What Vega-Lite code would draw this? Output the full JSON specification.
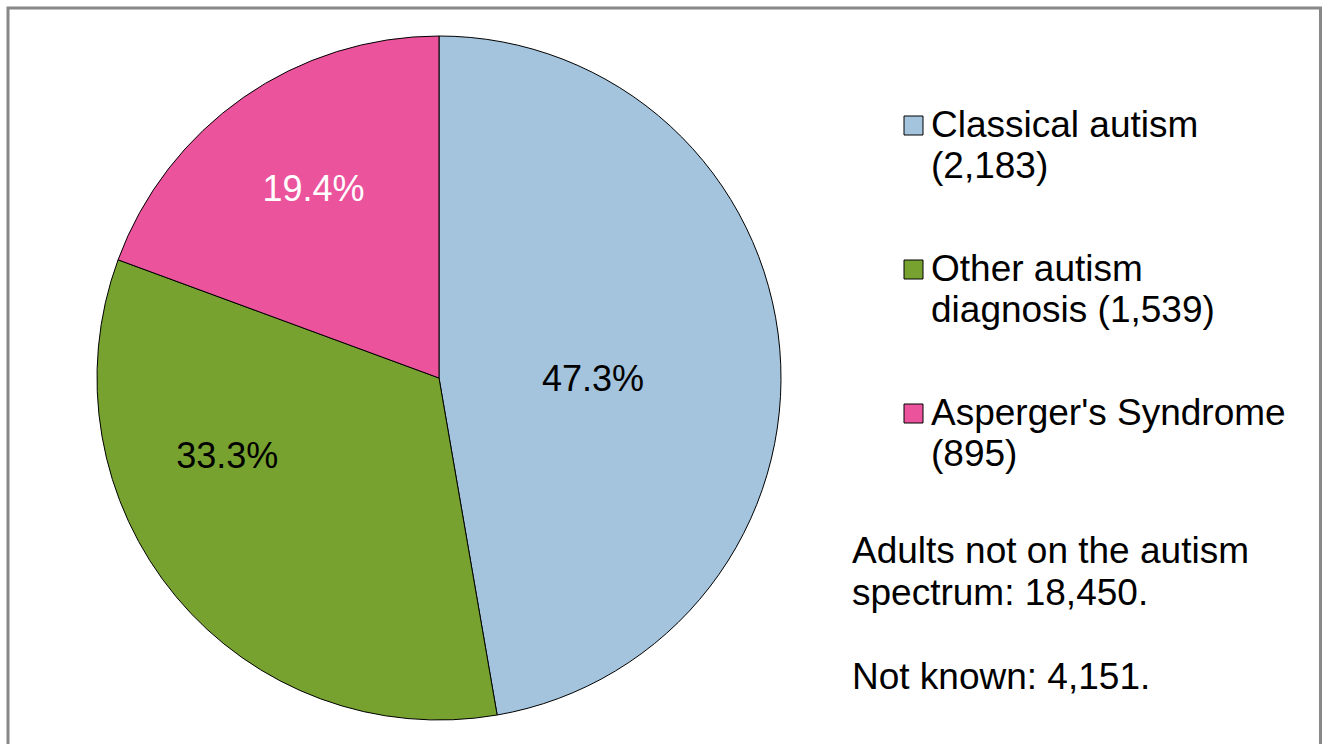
{
  "$schema": "https://vega.github.io/schema/vega-lite/v6.json",
  "autosize": {"type": "none"},
  "width": 1312,
  "height": 736,
  "padding": {"left": 8, "top": 8, "right": 8, "bottom": 0},
  "background": "white",
  "config": {"view": {"stroke": null}, "font": "Liberation Sans"},
  "data": {"values": [
    {"category": "Classical autism", "count": 2183, "rank": 1, "pct": "47.3%"},
    {"category": "Other autism diagnosis", "count": 1539, "rank": 2, "pct": "33.3%"},
    {"category": "Asperger's Syndrome", "count": 895, "rank": 3, "pct": "19.4%"}
  ]},
  "layer": [
    {
      "data": {"values": [{"frame": 1}]},
      "mark": {"type": "rect", "fill": null, "stroke": "#888888", "strokeWidth": 3},
      "encoding": {"x": {"value": 0}, "x2": {"value": 1312.5}, "y": {"value": 0}, "y2": {"value": 790}}
    },
    {
      "mark": {"type": "arc", "outerRadius": 342, "stroke": "#000000", "strokeWidth": 1},
      "encoding": {
        "x": {"value": 431},
        "y": {"value": 370},
        "theta": {"field": "count", "type": "quantitative", "stack": true},
        "order": {"field": "rank", "type": "quantitative"},
        "color": {
          "field": "category",
          "type": "nominal",
          "scale": {
            "domain": ["Classical autism", "Other autism diagnosis", "Asperger's Syndrome"],
            "range": ["#A3C4DC", "#77A22F", "#EC539D"]
          },
          "legend": {
            "orient": "none",
            "legendX": 887,
            "legendY": 99,
            "title": null,
            "padding": 0,
            "symbolType": "square",
            "symbolSize": 361,
            "symbolStrokeColor": "#000000",
            "symbolStrokeWidth": 1,
            "symbolOpacity": 1,
            "labelFont": "Liberation Sans",
            "labelFontSize": 37,
            "labelColor": "#000000",
            "labelLimit": 0,
            "labelOffset": -1,
            "labelBaseline": "alphabetic",
            "rowPadding": 65,
            "labelExpr": "datum.label === 'Classical autism' ? ['Classical autism', '(2,183)'] : datum.label === 'Other autism diagnosis' ? ['Other autism', 'diagnosis (1,539)'] : ['Asperger\\'s Syndrome', '(895)']",
            "encoding": {"labels": {"lineHeight": {"value": 41}, "dy": {"value": 11}}}
          }
        }
      }
    },
    {
      "mark": {
        "type": "text",
        "fontSize": 36,
        "font": "Liberation Sans",
        "align": "center",
        "baseline": "middle",
        "radius": {"expr": "datum.category === 'Classical autism' ? 154 : 226"},
        "thetaOffset": {"expr": "datum.category === 'Classical autism' ? 0.098 : datum.category === 'Other autism diagnosis' ? 0.337 : 0.02"}
      },
      "encoding": {
        "x": {"value": 431},
        "y": {"value": 370},
        "theta": {"field": "count", "type": "quantitative", "stack": true},
        "order": {"field": "rank", "type": "quantitative"},
        "detail": {"field": "category"},
        "text": {"field": "pct"},
        "color": {"condition": {"test": "datum.category === \"Asperger's Syndrome\"", "value": "#FFFFFF"}, "value": "#000000"}
      }
    },
    {
      "data": {"values": [{"note": "Adults not on the autism\nspectrum: 18,450."}]},
      "mark": {"type": "text", "fontSize": 37, "font": "Liberation Sans", "align": "left", "baseline": "alphabetic", "lineBreak": "\n", "lineHeight": 42, "color": "#000000"},
      "encoding": {
        "x": {"value": 844},
        "y": {"value": 555},
        "text": {"field": "note"}
      }
    },
    {
      "data": {"values": [{"note": "Not known: 4,151."}]},
      "mark": {"type": "text", "fontSize": 37, "font": "Liberation Sans", "align": "left", "baseline": "alphabetic", "color": "#000000"},
      "encoding": {
        "x": {"value": 844},
        "y": {"value": 681},
        "text": {"field": "note"}
      }
    }
  ]
}
